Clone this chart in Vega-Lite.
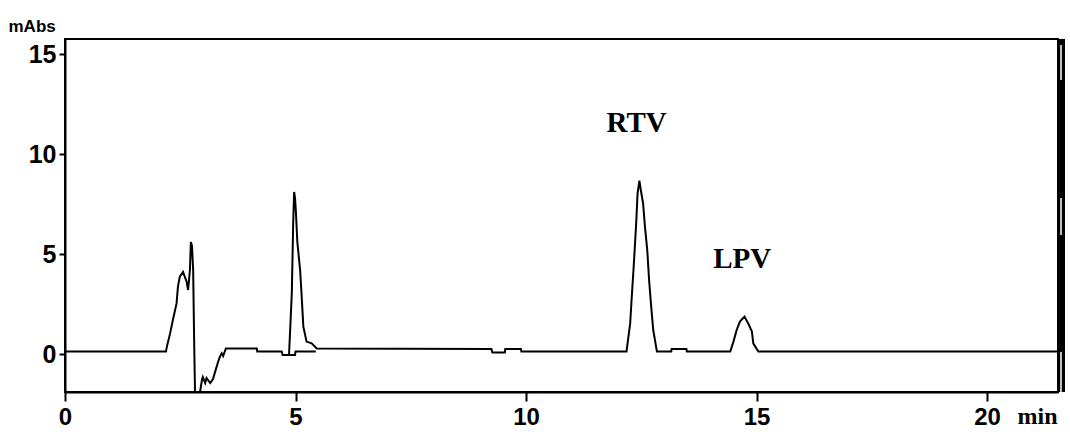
{
  "$schema": "https://vega.github.io/schema/vega-lite/v6.json",
  "width": 993,
  "height": 353,
  "autosize": {"type": "none"},
  "padding": {"left": 65, "top": 39, "right": 12, "bottom": 49},
  "background": "white",
  "config": {
    "view": {"stroke": "#000", "strokeWidth": 2},
    "axis": {"grid": false, "domainColor": "#000", "domainWidth": 2, "tickColor": "#000", "tickWidth": 2, "labelColor": "#000", "titleColor": "#000"}
  },
  "datasets": {
    "trace": [
      {"t": 0, "a": 0.12},
      {"t": 2.19, "a": 0.12},
      {"t": 2.21, "a": 0.37},
      {"t": 2.28, "a": 1.03},
      {"t": 2.34, "a": 1.7},
      {"t": 2.42, "a": 2.53},
      {"t": 2.45, "a": 3.37},
      {"t": 2.49, "a": 3.87},
      {"t": 2.56, "a": 4.1},
      {"t": 2.64, "a": 3.6},
      {"t": 2.67, "a": 3.2},
      {"t": 2.71, "a": 4.2},
      {"t": 2.73, "a": 5.6},
      {"t": 2.755, "a": 5.4},
      {"t": 2.78, "a": 4.2},
      {"t": 2.8, "a": 0.87},
      {"t": 2.82, "a": -1.9},
      {"t": 2.93, "a": -1.9},
      {"t": 2.97, "a": -1.3},
      {"t": 2.99, "a": -1.15},
      {"t": 3.04, "a": -1.45},
      {"t": 3.07, "a": -1.2},
      {"t": 3.15, "a": -1.45},
      {"t": 3.21, "a": -1.25},
      {"t": 3.29, "a": -0.63},
      {"t": 3.32, "a": -0.4},
      {"t": 3.36, "a": -0.13},
      {"t": 3.4, "a": 0.03},
      {"t": 3.43, "a": -0.1},
      {"t": 3.49, "a": 0.28},
      {"t": 4.16, "a": 0.28},
      {"t": 4.17, "a": 0.12},
      {"t": 4.7, "a": 0.12},
      {"t": 4.72, "a": -0.05},
      {"t": 4.84, "a": -0.05},
      {"t": 4.86, "a": 0.0},
      {"t": 4.89, "a": 1.5},
      {"t": 4.92, "a": 3.05},
      {"t": 4.95, "a": 6.55},
      {"t": 4.97, "a": 8.1},
      {"t": 4.99, "a": 7.8},
      {"t": 5.01, "a": 7.05},
      {"t": 5.04, "a": 5.6},
      {"t": 5.1, "a": 4.2},
      {"t": 5.13, "a": 3.05},
      {"t": 5.17, "a": 1.37},
      {"t": 5.24, "a": 0.62},
      {"t": 5.35, "a": 0.53},
      {"t": 5.46, "a": 0.28},
      {"t": 9.25, "a": 0.25},
      {"t": 9.27, "a": 0.07},
      {"t": 9.54, "a": 0.07},
      {"t": 9.55, "a": 0.25},
      {"t": 9.89, "a": 0.25},
      {"t": 9.9, "a": 0.12},
      {"t": 12.18, "a": 0.12},
      {"t": 12.26, "a": 1.53},
      {"t": 12.29, "a": 2.7},
      {"t": 12.34, "a": 4.53},
      {"t": 12.39, "a": 6.53},
      {"t": 12.42, "a": 8.03},
      {"t": 12.46, "a": 8.67},
      {"t": 12.49, "a": 8.2},
      {"t": 12.54, "a": 7.53},
      {"t": 12.58, "a": 6.37},
      {"t": 12.63, "a": 5.2},
      {"t": 12.67, "a": 3.7},
      {"t": 12.71, "a": 2.53},
      {"t": 12.76, "a": 1.2},
      {"t": 12.84, "a": 0.12},
      {"t": 13.15, "a": 0.12},
      {"t": 13.16, "a": 0.25},
      {"t": 13.48, "a": 0.25},
      {"t": 13.49, "a": 0.12},
      {"t": 14.43, "a": 0.12},
      {"t": 14.5, "a": 0.62},
      {"t": 14.57, "a": 1.2},
      {"t": 14.64, "a": 1.62},
      {"t": 14.74, "a": 1.87},
      {"t": 14.82, "a": 1.53},
      {"t": 14.9, "a": 1.12},
      {"t": 14.93, "a": 0.53},
      {"t": 15.04, "a": 0.12},
      {"t": 21.54, "a": 0.12}
    ],
    "baseline": [
      {"t": 4.86, "a": -0.05},
      {"t": 4.99, "a": -0.05},
      {"t": 5.0, "a": 0.12},
      {"t": 5.44, "a": 0.12}
    ],
    "labels": [
      {"t": 12.4, "a": 11.1, "label": "RTV"},
      {"t": 14.69, "a": 4.3, "label": "LPV"}
    ],
    "bar": [
      {"t": 21.54, "a": -1.9, "a2": 15.75}
    ],
    "notches": [
      {"t": 21.54, "a": 13.7, "a2": 15.45},
      {"t": 21.54, "a": 5.95, "a2": 7.8},
      {"t": 21.54, "a": -1.9, "a2": 0.1}
    ]
  },
  "encoding": {
    "x": {
      "field": "t", "type": "quantitative",
      "scale": {"domain": [0, 21.54], "nice": false, "zero": false},
      "axis": {
        "values": [0, 5, 10, 15, 20], "tickSize": 9, "labelPadding": 4,
        "labelFont": "Liberation Sans",
        "labelFontSize": 24, "labelFontWeight": "bold", "labelBaseline": "top",
        "labelFlush": false,
        "title": "min", "titleFont": "Liberation Serif",
        "titleFontSize": 24, "titleFontWeight": "bold", "titleAnchor": "start",
        "titleAlign": "left", "titleBaseline": "alphabetic", "titleX": 952, "titleY": 31
      }
    },
    "y": {
      "field": "a", "type": "quantitative",
      "scale": {"domain": [-1.9, 15.75], "nice": false, "zero": false},
      "axis": {
        "values": [0, 5, 10, 15], "tickSize": 6, "labelPadding": 3,
        "labelFont": "Liberation Sans",
        "labelFontSize": 25, "labelFontWeight": "bold", "labelBaseline": "middle",
        "labelFlush": false,
        "title": "mAbs", "titleAngle": 0, "titleAlign": "left", "titleBaseline": "alphabetic",
        "titleFont": "Liberation Sans",
        "titleFontSize": 17, "titleFontWeight": "bold", "titleX": -57, "titleY": -8
      }
    }
  },
  "layer": [
    {
      "data": {"name": "trace"},
      "mark": {"type": "line", "color": "#000", "strokeWidth": 2, "interpolate": "linear"}
    },
    {
      "data": {"name": "baseline"},
      "mark": {"type": "line", "color": "#000", "strokeWidth": 2}
    },
    {
      "data": {"name": "labels"},
      "mark": {"type": "text", "font": "Liberation Serif", "fontSize": 29, "fontWeight": "bold", "align": "center", "baseline": "alphabetic", "color": "#000"},
      "encoding": {"text": {"field": "label"}}
    },
    {
      "data": {"name": "bar"},
      "mark": {"type": "rule", "color": "#000", "strokeWidth": 7, "xOffset": 3.5, "clip": false},
      "encoding": {"y2": {"field": "a2"}}
    },
    {
      "data": {"name": "notches"},
      "mark": {"type": "rule", "color": "#fff", "strokeWidth": 1.5, "xOffset": 3, "clip": false},
      "encoding": {"y2": {"field": "a2"}}
    }
  ]
}
